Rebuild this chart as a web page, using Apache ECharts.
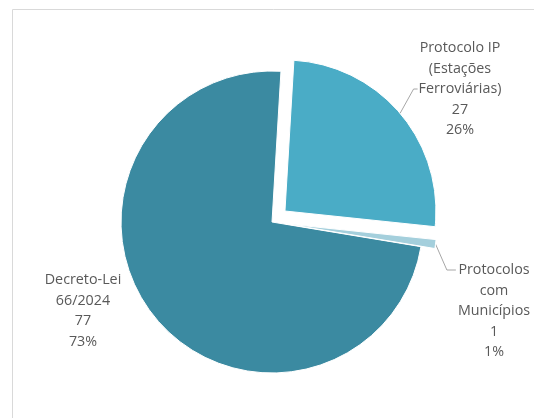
<!DOCTYPE html>
<html>
<head>
<meta charset="utf-8">
<script src="https://cdn.jsdelivr.net/npm/echarts@6/dist/echarts.min.js"></script>
<style>
html, body { margin: 0; padding: 0; background: #fff; }
#chart { width: 534px; height: 418px; }
</style>
</head>
<body>
<div id="chart"></div>
<script>
// categories (line breaks as in the source chart)
var categories = ['Protocolo IP\n(Estações\nFerroviárias)', 'Protocolos\ncom\nMunicípios', 'Decreto-Lei\n66/2024'];
var values = [27, 1, 77];
var colors = ['#4aacc6', '#a4cfdc', '#3b8aa1'];

// how far each slice is pulled out of the pie (px)
var explode = [17, 14, 0];
// label block centres (px)
var labelPos = [[460, 89], [494, 311], [83, 311]];

var pieCenter = [272, 222];
var pieRadius = 151;
var startAngle = 86.6;
var lineH = 20.5;

var chart = echarts.init(document.getElementById('chart'));

// offset of every slice along its middle angle
var total = values.reduce(function (a, b) { return a + b; }, 0);
var acc = 0;
var centers = [];
for (var i = 0; i < values.length; i++) {
	var mid = acc + 360 * values[i] / total / 2;
	acc += 360 * values[i] / total;
	var th = (startAngle - mid) * Math.PI / 180;
	centers.push([pieCenter[0] + Math.cos(th) * explode[i], pieCenter[1] - Math.sin(th) * explode[i]]);
}

function sliceSeries(k) {
	var data = [];
	for (var i = 0; i < values.length; i++) {
		var on = i === k;
		data.push({
			name: categories[i],
			value: values[i],
			itemStyle: on ? { color: colors[i], borderColor: '#fff', borderWidth: 1 }
				: { color: 'rgba(0,0,0,0)', borderWidth: 0 },
			label: { show: on },
			labelLine: { show: on && k !== 2 }
		});
	}
	return {
		type: 'pie',
		center: centers[k],
		radius: pieRadius,
		startAngle: startAngle,
		clockwise: true,
		percentPrecision: 0,
		silent: true,
		emphasis: { disabled: true },
		label: {
			position: 'outside',
			formatter: '{b}\n{c}\n{d}%',
			color: '#595959',
			fontFamily: 'Open Sans',
			fontSize: 14.3,
			lineHeight: lineH,
			align: 'center',
			overflow: 'none',
			edgeDistance: 0
		},
		labelLine: {
			length: 10,
			length2: 8,
			lineStyle: { color: '#a6a6a6', width: 1 }
		},
		labelLayout: function (params) {
			var p = labelPos[params.dataIndex];
			var w = params.labelRect.width;
			var h = params.labelRect.height;
			var left = p[0] - w / 2;
			var res = { x: p[0], y: p[1], align: 'center', verticalAlign: 'middle' };
			var pts = params.labelLinePoints;
			if (pts && params.dataIndex === 0) {
				res.labelLinePoints = [pts[0], [left - 5, p[1]], [left - 1, p[1]]];
			} else if (pts && params.dataIndex === 1) {
				var ty = p[1] - h / 2 + lineH / 2;
				res.labelLinePoints = [pts[0], [left - 11, ty], [left - 2, ty]];
			}
			return res;
		},
		data: data
	};
}

chart.setOption({
	animation: false,
	graphic: [{
		type: 'rect',
		shape: { x: 12.5, y: 9.5, width: 600, height: 500 },
		style: { fill: 'none', stroke: '#d9d9d9', lineWidth: 1 },
		silent: true
	}],
	series: [sliceSeries(2), sliceSeries(0), sliceSeries(1)]
});
</script>
</body>
</html>
